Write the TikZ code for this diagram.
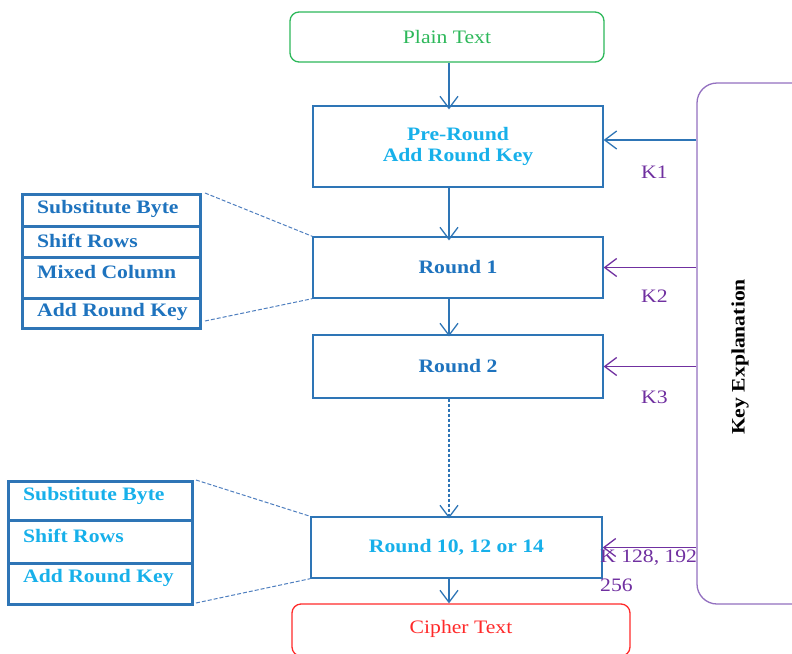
\documentclass[tikz,border=0pt]{standalone}
\usepackage{fontspec}
\setmainfont[FakeStretch=1.14]{Liberation Serif}
\usetikzlibrary{arrows.meta}
\definecolor{blueline}{HTML}{2E75B6}
\definecolor{darkbluetxt}{HTML}{1E73BE}
\definecolor{cyantxt}{HTML}{17B0EA}
\definecolor{purp}{HTML}{7030A0}
\definecolor{purpbox}{HTML}{9370C0}
\definecolor{greenbox}{HTML}{2DB85A}
\definecolor{redbox}{HTML}{FF2A2A}
\definecolor{dashcol}{HTML}{4F7FBF}
\tikzset{
  txt/.style={font=\fontsize{19}{22}\selectfont, inner sep=0pt},
  stage/.style={txt, draw=blueline, line width=1.3pt, fill=white, minimum width=290pt, align=center, font=\fontsize{19}{22}\selectfont\bfseries},
  endbox/.style={txt, line width=1.3pt, rounded corners=9pt, fill=white},
  rowbox/.style={draw=blueline, line width=3pt, inner sep=0pt},
  rowtxt/.style={txt, anchor=west, font=\fontsize{19}{22}\selectfont\bfseries},
  arr/.style={draw=blueline, line width=1.3pt, -{Straight Barb[length=12pt,width=18pt,line width=1.3pt]}},
  karr/.style={draw=purp, line width=1.3pt, -{Straight Barb[length=12pt,width=18pt,line width=1.3pt]}},
  zoomline/.style={draw=dashcol, line width=1pt, dash pattern=on 4pt off 2pt},
  klabel/.style={txt, text=purp, anchor=west}
}
\begin{document}
\begin{tikzpicture}[x=1pt,y=-1pt]
\useasboundingbox (0,0) rectangle (792,653);
% main column
\node[endbox, draw=greenbox, text=greenbox, minimum width=314pt, minimum height=50pt] (plain) at (447,37) {Plain Text};
\node[stage, text=cyantxt, minimum height=81pt] (pre) at (458,146.5) {Pre-Round\\[-1pt]Add Round Key};
\node[stage, text=darkbluetxt, minimum height=61pt] (r1) at (458,267.5) {Round 1};
\node[stage, text=darkbluetxt, minimum height=63pt] (r2) at (458,366.5) {Round 2};
\node[stage, text=cyantxt, minimum width=291pt, minimum height=61pt] (r10) at (456.5,547.5) {Round 10, 12 or 14};
\node[endbox, draw=redbox, text=redbox, minimum width=338pt, minimum height=52pt, text depth=6pt] (cipher) at (461,630) {Cipher Text};
% key labels (partly covered by key box)
\node[klabel] (k1) at (641,172) {K1};
\node[klabel] (k2) at (641,296) {K2};
\node[klabel] (k3) at (641,397) {K3};
\node[klabel] (k4a) at (600,558) {K 128, 192};
\node[klabel] (k4b) at (600,585) {256};
% key explanation box
\node[draw=purpbox, line width=1.3pt, rounded corners=20pt, fill=white, minimum width=135pt, minimum height=521pt, inner sep=0pt] (key) at (764.5,343.5) {};
\node[txt, font=\fontsize{19}{22}\selectfont\bfseries, rotate=90] (keytxt) at (740,357) {Key Explanation};
% vertical arrows
\coordinate (ax) at (449,0);
\draw[arr] (plain.south -| ax) -- ([yshift=-4pt]pre.north -| ax);
\draw[arr] (pre.south -| ax) -- ([yshift=-4pt]r1.north -| ax);
\draw[arr] (r1.south -| ax) -- ([yshift=-2pt]r2.north -| ax);
\draw[arr, dash pattern=on 3pt off 2pt] (r2.south -| ax) -- ([yshift=-2pt]r10.north -| ax);
\draw[arr] (r10.south -| ax) -- (cipher.north -| ax);
% key arrows
\coordinate (ky1) at (0,140);
\draw[arr] (ky1 -| key.west) -- (ky1 -| pre.east);
\draw[karr] (key.west |- r1.east) -- (r1.east);
\draw[karr] (key.west |- r2.east) -- (r2.east);
\draw[karr] (key.west |- r10.east) -- (r10.east);
% left detail box 1
\node[rowbox, minimum width=178pt, minimum height=32pt] (a1) at (111,210) {};
\node[rowbox, minimum width=178pt, minimum height=31pt] (a2) at (111,241.5) {};
\node[rowbox, minimum width=178pt, minimum height=41pt] (a3) at (111,277.5) {};
\node[rowbox, minimum width=178pt, minimum height=30pt] (a4) at (111,313) {};
\node[rowtxt, text=darkbluetxt] (t1) at (37,209) {Substitute Byte};
\node[rowtxt, text=darkbluetxt] (t2) at (37,241) {Shift Rows};
\node[rowtxt, text=darkbluetxt] (t3) at (37,272) {Mixed Column};
\node[rowtxt, text=darkbluetxt] (t4) at (37,312) {Add Round Key};
\coordinate (d1) at (205,193);
\coordinate (d2) at (205,321);
\draw[zoomline] (d1) -- (r1.north west);
\draw[zoomline] (d2) -- (r1.south west);
% left detail box 2
\node[rowbox, minimum width=184pt, minimum height=39pt] (b1) at (100,500.5) {};
\node[rowbox, minimum width=184pt, minimum height=43pt] (b2) at (100,541.5) {};
\node[rowbox, minimum width=184pt, minimum height=41pt] (b3) at (100,583.5) {};
\node[rowtxt, text=cyantxt] (s1) at (23,496) {Substitute Byte};
\node[rowtxt, text=cyantxt] (s2) at (23,536) {Shift Rows};
\node[rowtxt, text=cyantxt] (s3) at (23,578) {Add Round Key};
\coordinate (e1) at (196,480);
\coordinate (e2) at (196,603);
\draw[zoomline] (e1) -- (r10.north west);
\draw[zoomline] (e2) -- (r10.south west);
\end{tikzpicture}
\end{document}
